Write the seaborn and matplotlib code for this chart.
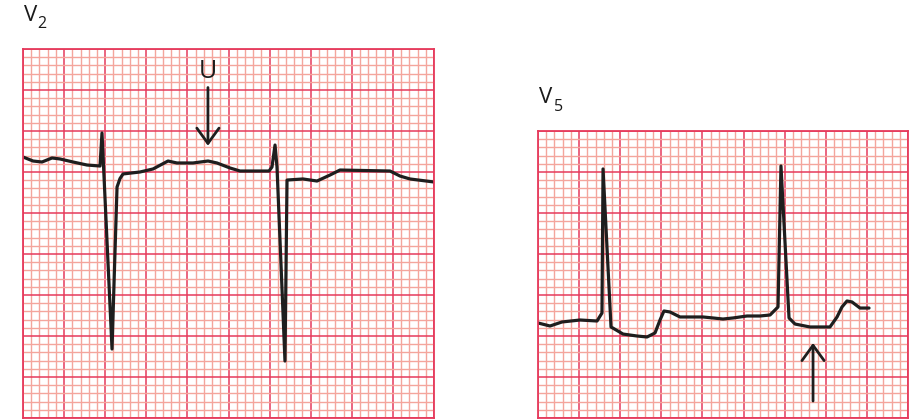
import matplotlib
matplotlib.use("Agg")
import matplotlib.pyplot as plt
import seaborn as sns
import numpy as np
import pandas as pd

# ---- data (units: mm of ECG paper; 1 small square = 1 mm) ----
v2_time = [0.0, 1.22, 2.31, 3.53, 4.50, 6.08, 7.79, 9.37, 9.61, 10.83, 11.20, 11.44, 11.80,
           12.17, 14.23, 15.82, 17.64, 18.73, 20.68, 22.51, 23.60, 25.18, 26.40, 29.93,
           30.29, 30.66, 30.90, 31.87, 32.12, 34.06, 35.77, 37.35, 38.56, 44.65, 45.86,
           47.08, 50.0]
v2_amp = [31.83, 31.34, 31.22, 31.71, 31.59, 31.22, 30.85, 30.73, 34.76, 8.41, 20.5, 28.17, 29.2,
          29.76, 30.00, 30.37, 31.34, 31.10, 31.10, 31.34, 31.10, 30.49, 30.12, 30.12,
          30.61, 33.29, 30.61, 6.95, 29.02, 29.15, 28.90, 29.63, 30.24, 30.12, 29.51,
          29.15, 28.78]

v5_time = [0.0, 1.46, 2.92, 5.11, 7.18, 7.78, 7.91, 8.88, 10.34, 12.04, 13.26, 14.23,
           14.84, 15.32, 16.05, 17.27, 20.07, 21.28, 22.50, 23.72, 25.42, 27.00, 28.22,
           29.19, 29.55, 30.53, 31.26, 33.08, 35.15, 35.51, 36.37, 36.97, 37.58, 38.19,
           39.16, 40.26]
v5_amp = [11.59, 11.22, 11.71, 11.95, 11.83, 12.80, 30.37, 11.10, 10.24, 10.00, 9.88, 10.37,
          11.95, 13.05, 12.93, 12.32, 12.32, 12.20, 12.07, 12.20, 12.44, 12.44, 12.56,
          13.54, 30.73, 12.20, 11.46, 11.10, 11.10, 11.10, 12.32, 13.54, 14.27, 14.15,
          13.41, 13.41]

lead_names = ["V", "V"]
lead_subs = ["2", "5"]
wave_label = "U"

# arrow anchors (mm)
u_arrow = (22.5, 40.3, 33.2)     # x, y_tail, y_head
v5_arrow = (33.45, 2.07, 9.15)

sns.set_theme(style="white")
plt.rcParams['font.family'] = ['Open Sans', 'DejaVu Sans']

MAJOR = '#e63a5c'
MINOR = '#f4a59c'
TRACE = '#1e1e1e'
TEXT = '#1a1a1a'

fig = plt.figure(figsize=(9.14, 4.2), dpi=100)
ax1 = fig.add_axes([23/914, 2/420, 411/914, 369/420])
ax2 = fig.add_axes([538/914, 2/420, 370/914, 287/420])


def ecg_paper(ax, w, h):
    ax.set_xlim(0, w)
    ax.set_ylim(0, h)
    ax.set_xticks(np.arange(0, w + 1, 5))
    ax.set_yticks(np.arange(0, h + 1, 5))
    ax.set_xticks(np.arange(0, w + 1, 1), minor=True)
    ax.set_yticks(np.arange(0, h + 1, 1), minor=True)
    ax.grid(which='minor', color=MINOR, linewidth=1.0)
    ax.grid(which='major', color=MAJOR, linewidth=1.1)
    ax.tick_params(which='both', length=0, labelbottom=False, labelleft=False)
    ax.set_xlabel('')
    ax.set_ylabel('')
    ax.set_axisbelow(True)
    for s in ax.spines.values():
        s.set_visible(True)
        s.set_color(MAJOR)
        s.set_linewidth(1.3)


df2 = pd.DataFrame({'t': v2_time, 'a': v2_amp})
df5 = pd.DataFrame({'t': v5_time, 'a': v5_amp})

sns.lineplot(data=df2, x='t', y='a', ax=ax1, sort=False, estimator=None,
             color=TRACE, linewidth=2.3)
sns.lineplot(data=df5, x='t', y='a', ax=ax2, sort=False, estimator=None,
             color=TRACE, linewidth=2.3)
for l in ax1.lines + ax2.lines:
    l.set_solid_joinstyle('round')
    l.set_solid_capstyle('round')

ecg_paper(ax1, 50, 45)
ecg_paper(ax2, 45, 35)

arrow_style = dict(arrowstyle='->,head_length=0.55,head_width=0.4', color=TRACE,
                   linewidth=2.0, mutation_scale=20, shrinkA=0, shrinkB=0)
ax1.annotate('', xy=(u_arrow[0], u_arrow[2]), xytext=(u_arrow[0], u_arrow[1]),
             arrowprops=arrow_style)
ax1.text(u_arrow[0], 41.5, wave_label, ha='center', va='baseline', fontsize=18,
         color=TEXT)
ax2.annotate('', xy=(v5_arrow[0], v5_arrow[2]), xytext=(v5_arrow[0], v5_arrow[1]),
             arrowprops=arrow_style)

fig.text(24/914, 1 - 21/420, lead_names[0], ha='left', va='baseline', fontsize=16,
         color=TEXT)
fig.text(37/914, 1 - 28/420, lead_subs[0], ha='left', va='baseline', fontsize=11.5,
         color=TEXT)
fig.text(539/914, 1 - 103/420, lead_names[1], ha='left', va='baseline', fontsize=16,
         color=TEXT)
fig.text(554/914, 1 - 111/420, lead_subs[1], ha='left', va='baseline', fontsize=11.5,
         color=TEXT)

fig.savefig('out.png', dpi=100, facecolor='white')
